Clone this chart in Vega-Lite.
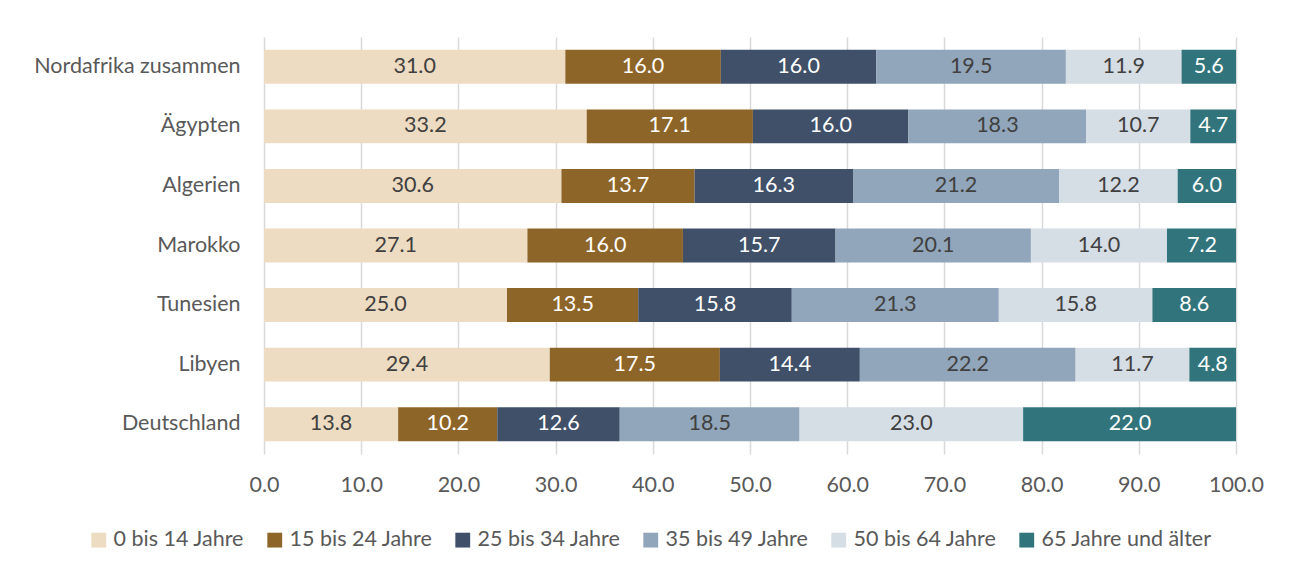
{
  "$schema": "https://vega.github.io/schema/vega-lite/v6.json",
  "width": 972,
  "height": 417,
  "autosize": {"type": "none"},
  "padding": {"left": 264, "top": 37, "right": 54, "bottom": 118},
  "background": "white",
  "config": {
    "font": "Lato",
    "view": {"stroke": null},
    "axis": {"labelFont": "Lato", "labelColor": "#595959", "labelFontSize": 21.5}
  },
  "data": {"values": [
    {"c":"Nordafrika zusammen","g":"0 bis 14 Jahre","v":31.0},
    {"c":"Nordafrika zusammen","g":"15 bis 24 Jahre","v":16.0},
    {"c":"Nordafrika zusammen","g":"25 bis 34 Jahre","v":16.0},
    {"c":"Nordafrika zusammen","g":"35 bis 49 Jahre","v":19.5},
    {"c":"Nordafrika zusammen","g":"50 bis 64 Jahre","v":11.9},
    {"c":"Nordafrika zusammen","g":"65 Jahre und älter","v":5.6},
    {"c":"Ägypten","g":"0 bis 14 Jahre","v":33.2},
    {"c":"Ägypten","g":"15 bis 24 Jahre","v":17.1},
    {"c":"Ägypten","g":"25 bis 34 Jahre","v":16.0},
    {"c":"Ägypten","g":"35 bis 49 Jahre","v":18.3},
    {"c":"Ägypten","g":"50 bis 64 Jahre","v":10.7},
    {"c":"Ägypten","g":"65 Jahre und älter","v":4.7},
    {"c":"Algerien","g":"0 bis 14 Jahre","v":30.6},
    {"c":"Algerien","g":"15 bis 24 Jahre","v":13.7},
    {"c":"Algerien","g":"25 bis 34 Jahre","v":16.3},
    {"c":"Algerien","g":"35 bis 49 Jahre","v":21.2},
    {"c":"Algerien","g":"50 bis 64 Jahre","v":12.2},
    {"c":"Algerien","g":"65 Jahre und älter","v":6.0},
    {"c":"Marokko","g":"0 bis 14 Jahre","v":27.1},
    {"c":"Marokko","g":"15 bis 24 Jahre","v":16.0},
    {"c":"Marokko","g":"25 bis 34 Jahre","v":15.7},
    {"c":"Marokko","g":"35 bis 49 Jahre","v":20.1},
    {"c":"Marokko","g":"50 bis 64 Jahre","v":14.0},
    {"c":"Marokko","g":"65 Jahre und älter","v":7.2},
    {"c":"Tunesien","g":"0 bis 14 Jahre","v":25.0},
    {"c":"Tunesien","g":"15 bis 24 Jahre","v":13.5},
    {"c":"Tunesien","g":"25 bis 34 Jahre","v":15.8},
    {"c":"Tunesien","g":"35 bis 49 Jahre","v":21.3},
    {"c":"Tunesien","g":"50 bis 64 Jahre","v":15.8},
    {"c":"Tunesien","g":"65 Jahre und älter","v":8.6},
    {"c":"Libyen","g":"0 bis 14 Jahre","v":29.4},
    {"c":"Libyen","g":"15 bis 24 Jahre","v":17.5},
    {"c":"Libyen","g":"25 bis 34 Jahre","v":14.4},
    {"c":"Libyen","g":"35 bis 49 Jahre","v":22.2},
    {"c":"Libyen","g":"50 bis 64 Jahre","v":11.7},
    {"c":"Libyen","g":"65 Jahre und älter","v":4.8},
    {"c":"Deutschland","g":"0 bis 14 Jahre","v":13.8},
    {"c":"Deutschland","g":"15 bis 24 Jahre","v":10.2},
    {"c":"Deutschland","g":"25 bis 34 Jahre","v":12.6},
    {"c":"Deutschland","g":"35 bis 49 Jahre","v":18.5},
    {"c":"Deutschland","g":"50 bis 64 Jahre","v":23.0},
    {"c":"Deutschland","g":"65 Jahre und älter","v":22.0}
  ]},
  "transform": [
    {"stack": "v", "groupby": ["c"], "sort": [{"field": "g", "order": "ascending"}], "as": ["v0", "v1"], "offset": "zero"},
    {"calculate": "(datum.v0 + datum.v1) / 2", "as": "mid"}
  ],
  "encoding": {
    "y": {
      "field": "c", "type": "nominal",
      "sort": ["Nordafrika zusammen","Ägypten","Algerien","Marokko","Tunesien","Libyen","Deutschland"],
      "scale": {"paddingInner": 0.43, "paddingOuter": 0.215},
      "axis": {"title": null, "ticks": false, "domain": false, "labelPadding": 24, "grid": false, "labelLimit": 400}
    }
  },
  "layer": [
    {
      "mark": {"type": "bar", "clip": true},
      "encoding": {
        "x": {
          "field": "v0", "type": "quantitative",
          "scale": {"domain": [0, 100], "nice": false, "clamp": true},
          "axis": {"title": null, "format": ".1f", "values": [0,10,20,30,40,50,60,70,80,90,100], "ticks": false, "domain": false, "grid": true, "gridColor": "#D9D9D9", "gridWidth": 1.5, "labelPadding": 20, "labelFlush": false}
        },
        "x2": {"field": "v1"},
        "color": {
          "field": "g", "type": "nominal",
          "scale": {
            "domain": ["0 bis 14 Jahre","15 bis 24 Jahre","25 bis 34 Jahre","35 bis 49 Jahre","50 bis 64 Jahre","65 Jahre und älter"],
            "range": ["#EDDCC2","#8E6529","#3F5068","#91A6BA","#D5DDE5","#31747B"]
          },
          "legend": {
            "title": null, "orient": "none", "direction": "horizontal",
            "legendX": -176, "legendY": 492,
            "symbolType": "square", "symbolSize": 220, "symbolStrokeWidth": 0,
            "labelFontSize": 21.5, "labelColor": "#595959", "labelFont": "Lato",
            "labelLimit": 400,
            "columnPadding": 19, "labelOffset": 4
          }
        }
      }
    },
    {
      "mark": {"type": "text", "fontSize": 21.5, "font": "Lato", "baseline": "middle", "align": "center"},
      "encoding": {
        "x": {"field": "mid", "type": "quantitative"},
        "text": {"field": "v", "type": "quantitative", "format": ".1f"},
        "color": {
          "condition": {"test": "datum.g === '15 bis 24 Jahre' || datum.g === '25 bis 34 Jahre' || datum.g === '65 Jahre und älter'", "value": "#FFFFFF"},
          "value": "#404040"
        }
      }
    }
  ]
}
